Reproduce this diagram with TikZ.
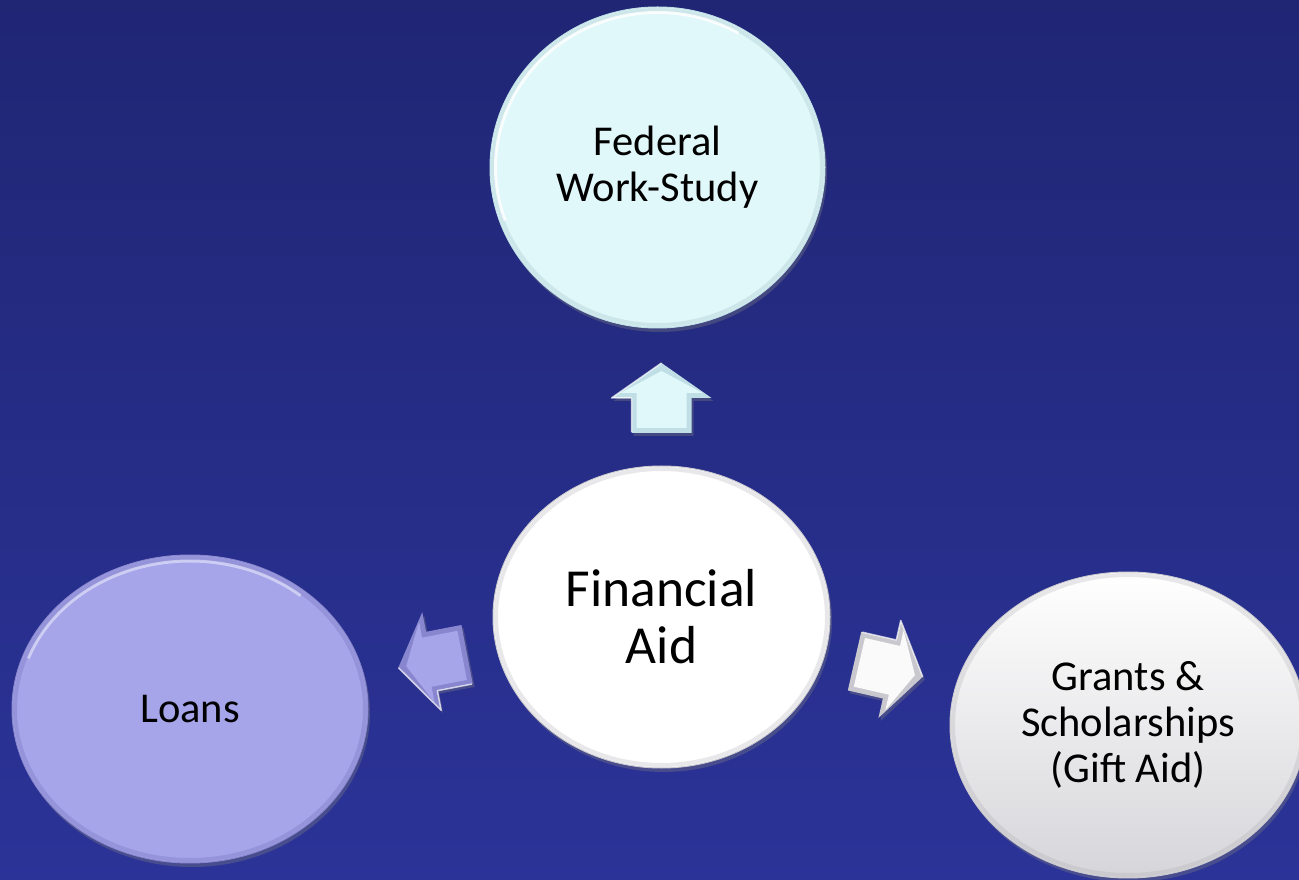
\documentclass[tikz,border=0pt]{standalone}
\usepackage{fontspec}
\setmainfont{Carlito}
\usetikzlibrary{shapes.geometric,shadows}
\definecolor{bgtop}{RGB}{32,38,116}
\definecolor{bgbot}{RGB}{43,51,152}
\definecolor{fwsfill}{RGB}{225,248,250}
\definecolor{fwsdark}{RGB}{160,190,200}
\definecolor{fwsedge}{RGB}{192,222,230}
\definecolor{loanfill}{RGB}{166,165,234}
\definecolor{loandark}{RGB}{110,108,180}
\definecolor{loanedge}{RGB}{136,134,206}
\definecolor{gabot}{RGB}{214,214,218}
\definecolor{greydark}{RGB}{165,165,172}
\definecolor{greyedge}{RGB}{200,200,206}
\newcommand{\blockarrow}[6]{%
  \begin{scope}[shift={(fa.center)}, rotate=#1]
    \fill[#6, drop shadow={opacity=0.35,shadow xshift=2pt,shadow yshift=-3pt}]
      (#2,-30) -- (#3,-30) -- (#3,-50) -- (#4,0) -- (#3,50) -- (#3,30) -- (#2,30) -- cycle;
    \fill[#5] (#2+5,-25) -- (#3+5,-25) -- (#3+5,-41) -- (#4-8,0) -- (#3+5,41) -- (#3+5,25) -- (#2+5,25) -- cycle;
    \draw[white, line width=1.5pt, opacity=0.7, line join=round] (#2+1,30) -- (#3,30) -- (#3,50) -- (#4,0);
  \end{scope}}
\begin{document}
\begin{tikzpicture}[x=1pt,y=1pt,
  bubble/.style={ellipse, inner sep=0pt, align=center, text=black,
    drop shadow={opacity=0.35,shadow xshift=2pt,shadow yshift=-4pt}},
  smalltext/.style={font=\fontsize{42.5}{46}\selectfont},
  bigtext/.style={font=\fontsize{53.5}{57}\selectfont}]
\useasboundingbox (0,0) rectangle (1299,879);
\shade[top color=bgtop, bottom color=bgbot] (0,0) rectangle (1299,879);

% nodes
\node[bubble, smalltext, fill=fwsfill, draw=fwsedge, line width=1pt,
  minimum width=335pt, minimum height=321pt] (fws) at (657.5,711.5) {Federal\\Work-Study};
\node[bubble, bigtext, fill=white, draw=greyedge, line width=1pt,
  minimum width=337pt, minimum height=302pt] (fa) at (661.5,262) {Financial\\Aid};
\node[bubble, smalltext, fill=loanfill, draw=loanedge, line width=1pt,
  minimum width=356pt, minimum height=308pt] (loans) at (190,170) {Loans};
\node[bubble, smalltext, top color=white, bottom color=gabot, draw=greyedge, line width=1pt,
  minimum width=356pt, minimum height=306pt] (ga) at (1128,154) {Grants \&\\Scholarships\\(Gift Aid)};

% soft bevel rims
\draw[fwsdark, line width=4pt, opacity=0.3] (fws.center) ellipse [x radius=164.5, y radius=157.5];
\draw[white, line width=3pt, opacity=0.8] ([shift={(60:162 and 155)}]fws.center) arc[start angle=60, end angle=200, x radius=162, y radius=155];
\draw[greydark, line width=4pt, opacity=0.25] (fa.center) ellipse [x radius=165.5, y radius=148];
\draw[loandark, line width=4pt, opacity=0.3] (loans.center) ellipse [x radius=175, y radius=151];
\draw[white, line width=3pt, opacity=0.45] ([shift={(50:172 and 148)}]loans.center) arc[start angle=50, end angle=160, x radius=172, y radius=148];
\draw[greydark, line width=4pt, opacity=0.25] (ga.center) ellipse [x radius=175, y radius=150];

% block arrows
\blockarrow{90}{184}{219}{254}{fwsfill}{fwsedge}
\blockarrow{190.9}{198}{234}{268}{loanfill}{loanedge}
\blockarrow{-12.9}{198}{234}{268}{white!96!gray}{greyedge}
\end{tikzpicture}
\end{document}
